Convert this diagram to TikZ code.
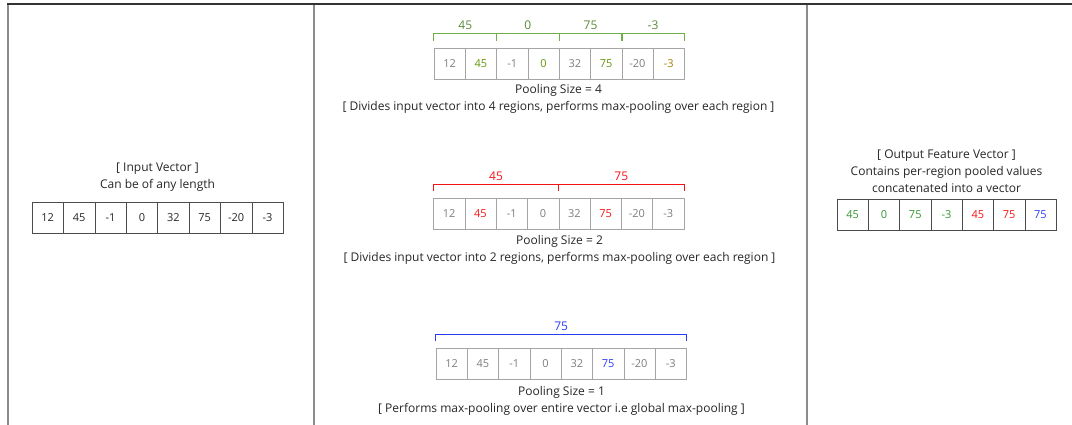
\documentclass[tikz,border=0pt]{standalone}
\usepackage{fontspec}
\setmainfont{Open Sans}
\usepackage{tikz}
\usetikzlibrary{positioning}
\definecolor{fgray}{RGB}{140,140,140}
\definecolor{cgray}{RGB}{165,165,165}
\definecolor{tgray}{RGB}{125,125,125}
\definecolor{pgreen}{RGB}{112,173,71}
\definecolor{gcell}{RGB}{100,150,10}
\definecolor{ycell}{RGB}{170,125,10}
\definecolor{ogreen}{RGB}{50,150,50}
\definecolor{pred}{RGB}{245,20,20}
\definecolor{pblue}{RGB}{40,60,250}

\begin{document}
\begin{tikzpicture}[x=1pt,y=-1pt,font=\fontsize{12}{17}\selectfont,
  cell/.style={draw=cgray,minimum width=31.3pt,minimum height=31pt,inner sep=0pt,font=\fontsize{11}{12}\selectfont,text=tgray},
  incell/.style={cell,draw=black!70,text=black!85},
  brk/.style={line width=0.9pt},
  lbl/.style={above=2.5pt,inner sep=1pt},
  frame/.style={line width=1.6pt,draw=fgray},
  note/.style={align=center,inner sep=0pt,text=black!85}]
\useasboundingbox (0,0) rectangle (1072,425);
% table rules
\draw[frame] (8,4) -- (8,425) (314,4) -- (314,425) (807,4) -- (807,425);
\draw[frame,draw=black!80] (7,4) -- (1072,4);

% input column
\node[note] (intxt) at (157.5,177.5) {[ Input Vector ]\\Can be of any length};
\foreach \v [count=\i] in {12,45,-1,0,32,75,-20,-3}
  \node[incell] (in\i) at ({32+31.4*(\i-0.5)},217.5) {\v};

% pooling size 4
\foreach \v/\c [count=\i] in {12/tgray,45/gcell,-1/tgray,0/gcell,32/tgray,75/gcell,-20/tgray,-3/ycell}
  \node[cell,text=\c] (pa\i) at ({434+31.3*(\i-0.5)},63.5) {\v};
\foreach \a/\b/\v in {1/2/45,3/4/0,5/6/75,7/8/-3}
  \draw[brk,pgreen] ([yshift=7pt]pa\a.north west) -- ++(0,7pt)
    -- ([yshift=14pt]pa\b.north east) node[lbl,midway,text=pgreen!80!black] (la\a) {\v} -- ++(0,-7pt);
\node[note] (capa) at (558.5,99) {Pooling Size = 4\\{}[ Divides input vector into 4 regions, performs max-pooling over each region ]};

% pooling size 2
\foreach \v/\c [count=\i] in {12/tgray,45/pred,-1/tgray,0/tgray,32/tgray,75/pred,-20/tgray,-3/tgray}
  \node[cell,text=\c] (pb\i) at ({433.5+31.3*(\i-0.5)},214) {\v};
\foreach \a/\b/\v in {1/4/45,5/8/75}
  \draw[brk,pred] ([yshift=7pt]pb\a.north west) -- ++(0,7pt)
    -- ([yshift=14pt]pb\b.north east) node[lbl,midway,text=pred] (lb\a) {\v} -- ++(0,-7pt);
\node[note] (capb) at (559.5,250) {Pooling Size = 2\\{}[ Divides input vector into 2 regions, performs max-pooling over each region ]};

% pooling size 1
\foreach \v/\c [count=\i] in {12/tgray,45/tgray,-1/tgray,0/tgray,32/tgray,75/pblue,-20/tgray,-3/tgray}
  \node[cell,text=\c] (pc\i) at ({436+31.3*(\i-0.5)},364) {\v};
\draw[brk,pblue] ([yshift=7pt]pc1.north west) -- ++(0,7pt)
  -- ([yshift=14pt]pc8.north east) node[lbl,midway,text=pblue] (lc1) {75} -- ++(0,-7pt);
\node[note] (capc) at (561.5,400.5) {Pooling Size = 1\\{}[ Performs max-pooling over entire vector i.e global max-pooling ]};

% output column
\node[note] (outtxt) at (946.5,171.5) {[ Output Feature Vector ]\\Contains per-region pooled values\\concatenated into a vector};
\foreach \v/\c [count=\i] in {45/ogreen,0/ogreen,75/ogreen,-3/ogreen,45/pred,75/pred,75/pblue}
  \node[incell,text=\c] (out\i) at ({837+31.3*(\i-0.5)},214.5) {\v};
\end{tikzpicture}
\end{document}
